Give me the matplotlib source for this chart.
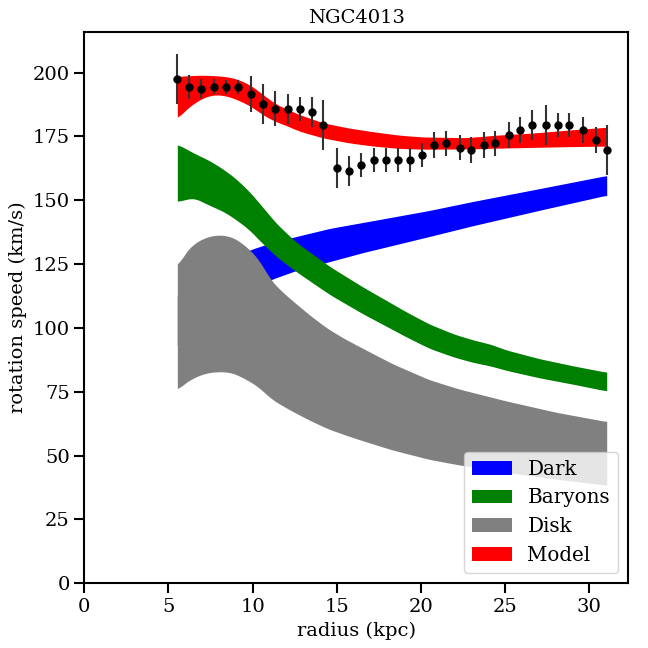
import numpy as np
import matplotlib
matplotlib.use("Agg")
import matplotlib.pyplot as plt

plt.rcParams['font.family'] = ['DejaVu Serif']

# observed rotation curve
radius = [5.53, 6.24, 6.95, 7.72, 8.43, 9.14, 9.91, 10.62, 11.33, 12.10, 12.81, 13.52,
          14.17, 15.00, 15.71, 16.42, 17.19, 17.90, 18.67, 19.38, 20.09, 20.80, 21.51,
          22.34, 22.99, 23.76, 24.41, 25.24, 25.89, 26.60, 27.43, 28.14, 28.79, 29.62,
          30.39, 31.04]
vrot = [197.5, 194.5, 193.6, 194.4, 194.4, 194.4, 191.6, 187.8, 185.8, 185.8, 185.8, 184.6,
        179.5, 162.6, 161.4, 163.8, 165.8, 165.8, 165.8, 165.8, 167.7, 171.6, 172.4,
        170.5, 169.7, 171.6, 172.4, 175.6, 177.5, 179.5, 179.5, 179.5, 179.5, 177.5,
        173.6, 169.7]
verr = [9.8, 4.7, 3.7, 2.9, 2.7, 2.7, 7.0, 7.9, 6.8, 5.9, 4.8, 5.8,
        9.9, 7.8, 6.0, 4.8, 4.8, 4.8, 4.8, 4.8, 4.8, 5.0, 4.9,
        4.9, 5.0, 5.0, 4.9, 5.0, 5.0, 5.9, 7.9, 4.8, 4.8, 5.0,
        5.0, 9.9]

# model bands (lower / upper)
r_dark = [5.53, 7.0, 8.5, 9.85, 11.04, 12.6, 14.6, 16.56, 20.5, 23.07, 27.0, 31.04]
dark_lo = [92.5, 102.5, 109.5, 114.5, 118.8, 122.5, 126.0, 129.5, 135.8, 140.0, 146.0, 152.0]
dark_hi = [112.0, 121.0, 126.5, 130.6, 133.2, 135.8, 139.0, 141.3, 146.0, 149.5, 154.5, 159.7]

r_bar = [5.53, 6.5, 7.45, 8.3, 9.0, 9.8, 10.45, 11.4, 12.6, 14.6, 16.56, 19.1, 20.5,
         22.0, 23.1, 24.2, 25.0, 27.0, 29.0, 31.04]
bar_lo = [149.5, 151.0, 148.0, 145.5, 142.5, 138.5, 134.0, 128.0, 122.0, 113.0, 105.5,
          96.6, 92.0, 88.5, 86.5, 85.0, 83.5, 80.5, 78.0, 75.3]
bar_hi = [172.0, 168.5, 165.5, 162.0, 158.5, 153.5, 148.5, 141.0, 133.5, 124.0, 116.0,
          106.4, 101.5, 97.5, 95.3, 93.5, 91.5, 88.0, 85.2, 82.6]

r_disk = [5.53, 6.0, 6.5, 7.2, 7.9, 8.6, 9.1, 9.85, 10.45, 11.05, 11.7, 12.4, 13.4,
          14.4, 15.4, 16.4, 18.3, 20.5, 22.3, 25.0, 28.0, 31.04]
disk_lo = [75.7, 78.5, 80.5, 82.3, 82.9, 82.7, 81.6, 79.0, 76.3, 72.5, 69.8, 67.2, 63.8,
           60.7, 58.3, 56.1, 52.2, 48.5, 46.3, 43.5, 40.8, 38.4]
disk_hi = [124.0, 129.5, 133.0, 135.5, 136.5, 136.0, 134.5, 130.6, 126.0, 119.0, 114.5,
           110.5, 105.0, 100.0, 96.0, 92.5, 86.0, 79.7, 76.0, 71.5, 67.0, 63.3]

r_mod = [5.53, 6.2, 7.0, 7.7, 8.4, 9.1, 9.9, 10.6, 11.3, 12.1, 12.8, 14.2, 15.7, 17.2,
         18.7, 20.1, 22.7, 24.5, 26.6, 28.8, 31.04]
mod_lo = [182.0, 186.5, 190.0, 191.4, 191.0, 189.4, 186.8, 183.5, 181.0, 179.0, 177.0,
          174.4, 172.5, 171.2, 170.3, 170.0, 170.1, 170.4, 170.7, 171.0, 171.2]
mod_hi = [198.5, 198.8, 199.0, 198.8, 198.5, 197.5, 195.0, 191.5, 188.0, 185.5, 183.5,
          180.3, 178.3, 176.8, 175.5, 174.8, 174.5, 175.5, 176.3, 177.5, 178.6]


def smooth(r, lo, hi, n=300):
    # densify the read points and soften the corners a little
    xs = np.linspace(r[0], r[-1], n)
    lo_s = np.interp(xs, r, lo)
    hi_s = np.interp(xs, r, hi)
    k = 9
    ker = np.ones(k) / k
    lo_s = np.convolve(np.pad(lo_s, k // 2, mode='edge'), ker, mode='valid')
    hi_s = np.convolve(np.pad(hi_s, k // 2, mode='edge'), ker, mode='valid')
    return xs, lo_s, hi_s


fig, ax = plt.subplots(figsize=(6.48, 6.48), dpi=100)
fig.subplots_adjust(left=0.13, right=0.969, bottom=0.1, top=0.951)

x, lo, hi = smooth(r_dark, dark_lo, dark_hi)
ax.fill_between(x, lo, hi, color='blue', label='Dark', lw=0)
x, lo, hi = smooth(r_bar, bar_lo, bar_hi)
ax.fill_between(x, lo, hi, color='green', label='Baryons', lw=0)
x, lo, hi = smooth(r_disk, disk_lo, disk_hi)
ax.fill_between(x, lo, hi, color='grey', label='Disk', lw=0)
x, lo, hi = smooth(r_mod, mod_lo, mod_hi)
ax.fill_between(x, lo, hi, color='red', label='Model', lw=0)

ax.errorbar(radius, vrot, yerr=verr, fmt='o', color='k', ecolor='0.2',
            elinewidth=1.5, markersize=5)

ax.set_xlim(0, 32.3)
ax.set_ylim(0, 216)
ax.set_xticks([0, 5, 10, 15, 20, 25, 30])
ax.set_yticks([0, 25, 50, 75, 100, 125, 150, 175, 200])
ax.set_title('NGC4013', fontsize=14)
ax.set_xlabel('radius (kpc)', fontsize=14)
ax.set_ylabel('rotation speed (km/s)', fontsize=14)
ax.tick_params(labelsize=14, length=7, width=1.5)
for s in ax.spines.values():
    s.set_linewidth(1.5)
ax.legend(loc='lower right', fontsize=14.3)

plt.savefig('out.png')
